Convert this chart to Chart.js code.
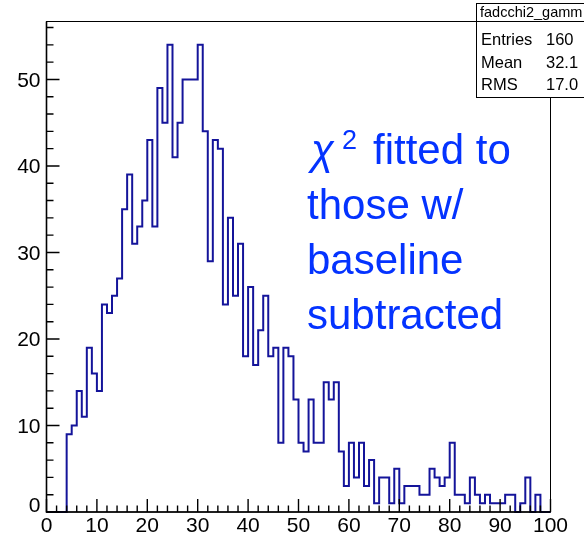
<!DOCTYPE html>
<html>
<head>
<meta charset="utf-8">
<script src="https://cdn.jsdelivr.net/npm/chart.js@4.4.1/dist/chart.umd.min.js"></script>
<style>
  html, body { margin: 0; padding: 0; background: #fff; }
  canvas { display: block; }
</style>
</head>
<body>
<canvas id="histo" width="584" height="535"></canvas>
<script>
// Histogram binning
const xMin = 0;
const xMax = 100;
const binWidth = 1;

// Bin contents (bins 0..99)
const counts = [
  0, 0, 0, 0, 9, 10, 14, 11, 19, 16,
  14, 24, 23, 25, 27, 35, 39, 31, 33, 36,
  43, 33, 49, 45, 54, 41, 45, 50, 50, 50,
  54, 44, 29, 43, 42, 24, 34, 25, 31, 18,
  26, 17, 21, 25, 18, 19, 8, 19, 18, 13,
  8, 7, 13, 8, 8, 15, 13, 15, 7, 3,
  8, 4, 8, 3, 6, 1, 4, 4, 1, 5,
  1, 3, 3, 3, 2, 2, 5, 4, 3, 4,
  8, 2, 2, 1, 4, 2, 1, 2, 1, 1,
  1, 2, 2, 0, 1, 4, 0, 2, 0, 0
];

// Axis ticks
const xTicks = [0, 10, 20, 30, 40, 50, 60, 70, 80, 90, 100];
const yTicks = [0, 10, 20, 30, 40, 50];
const minorStep = 2;
const yMax = 56.7;

// Stats box text
const statsTitle = 'fadcchi2_gamm';
const statsNames = ['Entries', 'Mean', 'RMS'];
const statsValues = ['160', '32.1', '17.0'];

// Annotation
const noteLines = ['those w/', 'baseline', 'subtracted'];

const FONT = '"Liberation Sans", Arial, Helvetica, sans-serif';

// histogram outline points (step drawing)
const points = counts.map((c, i) => ({ x: xMin + i * binWidth, y: c }));
points.push({ x: xMax, y: 0 });

// frame, ticks, labels, stats box and text
const rootStyle = {
    id: 'rootStyle',
    afterDatasetsDraw(chart) {
        const { ctx, chartArea: a, scales: { x, y } } = chart;
        ctx.save();

        // frame
        ctx.strokeStyle = '#000';
        ctx.lineWidth = 1;
        ctx.strokeRect(a.left, a.top, a.right - a.left, a.bottom - a.top);

        // axis lines
        ctx.lineWidth = 1.6;
        ctx.beginPath();
        ctx.moveTo(a.left, a.top);
        ctx.lineTo(a.left, a.bottom);
        ctx.lineTo(a.right, a.bottom);
        ctx.stroke();

        // x ticks
        ctx.lineWidth = 1.4;
        ctx.beginPath();
        for (let v = xMin; v <= xMax; v += minorStep) {
            const px = x.getPixelForValue(v);
            const len = xTicks.includes(v) ? 13 : 6.5;
            ctx.moveTo(px, a.bottom);
            ctx.lineTo(px, a.bottom - len);
        }
        // y ticks
        for (let v = 0; v <= yMax; v += minorStep) {
            const py = y.getPixelForValue(v);
            const len = yTicks.includes(v) ? 13 : 7;
            ctx.moveTo(a.left, py);
            ctx.lineTo(a.left + len, py);
        }
        ctx.stroke();

        // tick labels
        ctx.fillStyle = '#000';
        ctx.font = '21px ' + FONT;
        ctx.textAlign = 'center';
        ctx.textBaseline = 'alphabetic';
        xTicks.forEach(v => {
            ctx.fillText(String(v), x.getPixelForValue(v), a.bottom + 20);
        });
        ctx.textAlign = 'right';
        yTicks.forEach(v => {
            const py = y.getPixelForValue(v);
            const shift = v === 0 ? -8 : 0;
            ctx.fillText(String(v), a.left - 6, py + 7.5 + shift);
        });

        // stats box
        const bx = 476.5, by = 3.5, bw = 120, bh = 94;
        ctx.fillStyle = '#fff';
        ctx.fillRect(bx, by, bw, bh);
        ctx.strokeStyle = '#000';
        ctx.lineWidth = 1;
        ctx.strokeRect(bx, by, bw, bh);
        ctx.beginPath();
        ctx.moveTo(bx, 21.5);
        ctx.lineTo(bx + bw, 21.5);
        ctx.stroke();
        ctx.fillStyle = '#000';
        ctx.textAlign = 'left';
        ctx.font = '14.5px ' + FONT;
        ctx.fillText(statsTitle, 480, 17);
        ctx.font = '16.5px ' + FONT;
        statsNames.forEach((n, i) => {
            ctx.fillText(n, 481, 45 + i * 22.5);
            ctx.fillText(statsValues[i], 546, 45 + i * 22.5);
        });

        // annotation
        ctx.fillStyle = '#0433ff';
        ctx.font = 'italic 42px ' + FONT;
        ctx.fillText('\u03c7', 311, 164);
        ctx.font = '27px ' + FONT;
        ctx.fillText('2', 342, 149);
        ctx.font = '42px ' + FONT;
        ctx.fillText('fitted to', 373, 164);
        noteLines.forEach((t, i) => {
            ctx.fillText(t, 307, 219 + i * 55);
        });

        ctx.restore();
    }
};

new Chart(document.getElementById('histo'), {
    type: 'line',
    data: {
        datasets: [{
            data: points,
            stepped: 'before',
            borderColor: '#14149a',
            borderWidth: 2,
            pointRadius: 0,
            fill: false,
            clip: 4
        }]
    },
    options: {
        responsive: false,
        animation: false,
        events: [],
        layout: { padding: { left: 46.5, top: 21.5, right: 33.5, bottom: 23 } },
        plugins: { legend: { display: false }, tooltip: { enabled: false } },
        scales: {
            x: {
                type: 'linear',
                display: false,
                min: xMin,
                max: xMax
            },
            y: {
                display: false,
                min: 0,
                max: yMax
            }
        }
    },
    plugins: [rootStyle]
});
</script>
</body>
</html>
